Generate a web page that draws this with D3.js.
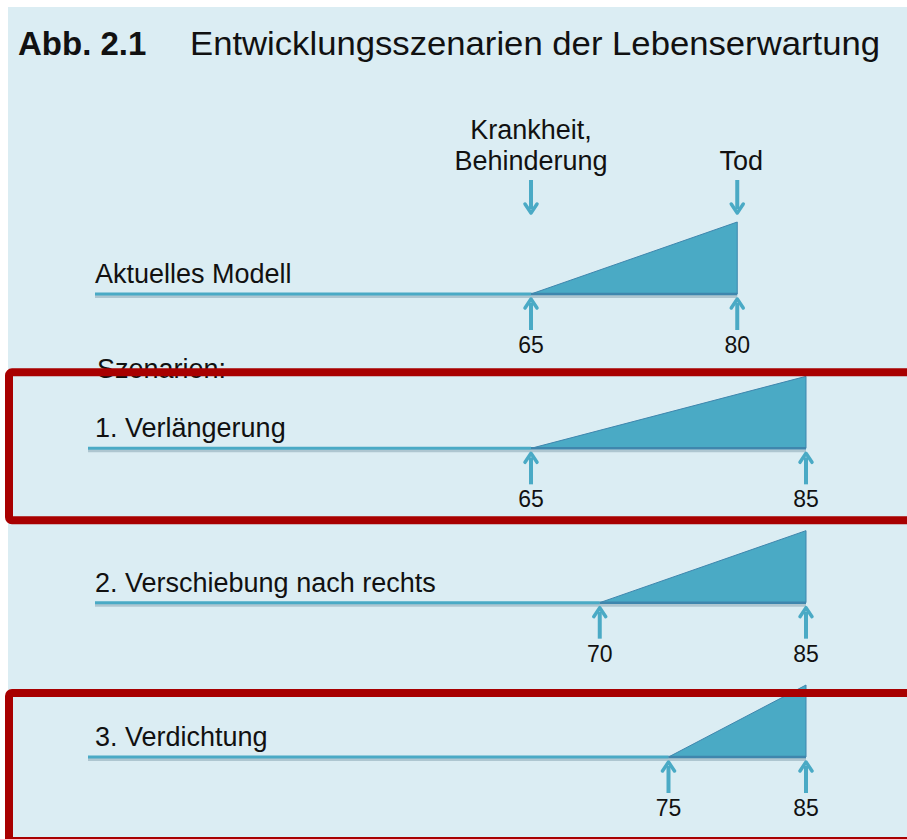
<!DOCTYPE html>
<html>
<head>
<meta charset="utf-8">
<script src="https://cdn.jsdelivr.net/npm/d3@7"></script>
<style>
  html, body { margin: 0; padding: 0; background: #fff; }
  svg { display: block; font-family: 'Liberation Sans', Arial, sans-serif; }
</style>
</head>
<body>
<div id="container"></div>
<script>
// Szenarien (Zeilen) und Alter
const scenarios = ['Aktuelles Modell', '1. Verlängerung', '2. Verschiebung nach rechts', '3. Verdichtung'];
const onsetAges = [65, 65, 70, 75];   // Krankheit, Behinderung
const deathAges = [80, 85, 85, 85];   // Tod
const highlighted = [false, true, false, true];
const topLabels = [['Krankheit,', 'Behinderung'], ['Tod']];

const W = 907, H = 839;
const blue = '#4aaac5';

const rows = scenarios.map((s, i) => ({
	label: s,
	onset: onsetAges[i],
	death: deathAges[i],
	box: highlighted[i],
	idx: i,
}));

const svg = d3.select('#container').append('svg')
	.attr('width', W)
	.attr('height', H);

// Hintergrund
svg.append('rect')
	.attr('x', 8).attr('y', 7)
	.attr('width', W - 8).attr('height', H - 7)
	.attr('fill', '#dbedf3');

// Titel
svg.append('text')
	.attr('x', 18).attr('y', 55)
	.style('font-size', '33px')
	.style('font-weight', 'bold')
	.attr('fill', '#111')
	.text('Abb. 2.1');
svg.append('text')
	.attr('x', 190).attr('y', 55)
	.style('font-size', '33px')
	.attr('textLength', 690)
	.attr('lengthAdjust', 'spacingAndGlyphs')
	.attr('fill', '#111')
	.text('Entwicklungsszenarien der Lebenserwartung');

// Skalen
const x = d3.scaleLinear().domain([65, 85]).range([531, 806]);
const y = d3.scalePoint().domain(scenarios).range([294, 757]);
const h = d3.scaleLinear().domain([0, 1]).range([0, 72]);

// Pfeil (Spitze bei tipY)
function arrow(g, cx, tailY, tipY) {
	const dir = tipY > tailY ? 1 : -1;
	g.append('line')
		.attr('x1', cx).attr('x2', cx)
		.attr('y1', tailY).attr('y2', tipY - dir * 4)
		.attr('stroke', blue)
		.attr('stroke-width', 4);
	g.append('path')
		.attr('d', `M${cx - 6},${tipY - dir * 9} L${cx},${tipY} L${cx + 6},${tipY - dir * 9}`)
		.attr('fill', 'none')
		.attr('stroke', blue)
		.attr('stroke-width', 3.5)
		.attr('stroke-linejoin', 'round')
		.attr('stroke-linecap', 'round');
}

// Obere Beschriftung mit Pfeilen nach unten
const topAges = [rows[0].onset, rows[0].death];
topAges.forEach((a, i) => {
	const t = svg.append('text')
		.attr('text-anchor', 'middle')
		.style('font-size', '27px')
		.attr('fill', '#111');
	const lines = topLabels[i];
	lines.forEach((l, j) => {
		t.append('tspan')
			.attr('x', x(a) + (i === 1 ? 4 : 0))
			.attr('y', 170 - (lines.length - 1 - j) * 31)
			.text(l);
	});
	arrow(svg, x(a), 180, 213);
});

// "Szenarien:" vor den Szenarien
svg.append('text')
	.attr('x', 97)
	.attr('y', 378)
	.style('font-size', '27px')
	.attr('fill', '#111')
	.text('Szenarien:');

const row = svg.selectAll('g.row')
	.data(rows)
	.enter()
	.append('g')
	.attr('class', 'row');

row.each(function(d, i) {
	const g = d3.select(this);
	const base = y(d.label);
	const x0 = i % 2 === 0 ? 95 : 88;

	// Schatten
	g.append('line')
		.attr('x1', x0).attr('x2', x(d.death))
		.attr('y1', base + 2.5).attr('y2', base + 2.5)
		.attr('stroke', '#5b7f8f')
		.attr('stroke-opacity', 0.35)
		.attr('stroke-width', 3);

	// Lebenslinie
	g.append('line')
		.attr('x1', x0).attr('x2', x(d.onset))
		.attr('y1', base).attr('y2', base)
		.attr('stroke', blue)
		.attr('stroke-width', 3);

	// Dreieck Krankheit bis Tod
	g.append('path')
		.attr('d', `M${x(d.onset)},${base} L${x(d.death)},${base - h(1)} L${x(d.death)},${base} Z`)
		.attr('fill', blue)
		.attr('stroke', '#3f86ad')
		.attr('stroke-width', 1);
	g.append('line')
		.attr('x1', x(d.onset)).attr('x2', x(d.death))
		.attr('y1', base).attr('y2', base)
		.attr('stroke', '#3f86ad')
		.attr('stroke-width', 2.5);

	// Beschriftung
	g.append('text')
		.attr('x', 95)
		.attr('y', base - 11)
		.style('font-size', '27px')
		.attr('fill', '#111')
		.text(d.label);

	// Pfeile nach oben und Alter
	[d.onset, d.death].forEach(a => {
		arrow(g, x(a), base + 36, base + 5);
		g.append('text')
			.attr('x', x(a))
			.attr('y', base + 59)
			.attr('text-anchor', 'middle')
			.style('font-size', '23px')
			.attr('fill', '#111')
			.text(a);
	});
});

// Rote Rahmen um hervorgehobene Szenarien (Oberkante relativ zur Grundlinie)
const boxTop = { 1: -76, 3: -64 };
row.filter(d => d.box)
	.append('rect')
	.attr('x', 9)
	.attr('y', d => y(d.label) + boxTop[d.idx])
	.attr('width', W + 20)
	.attr('height', 148)
	.attr('rx', 3)
	.attr('fill', 'none')
	.attr('stroke', '#a80000')
	.attr('stroke-width', 8);
</script>
</body>
</html>
